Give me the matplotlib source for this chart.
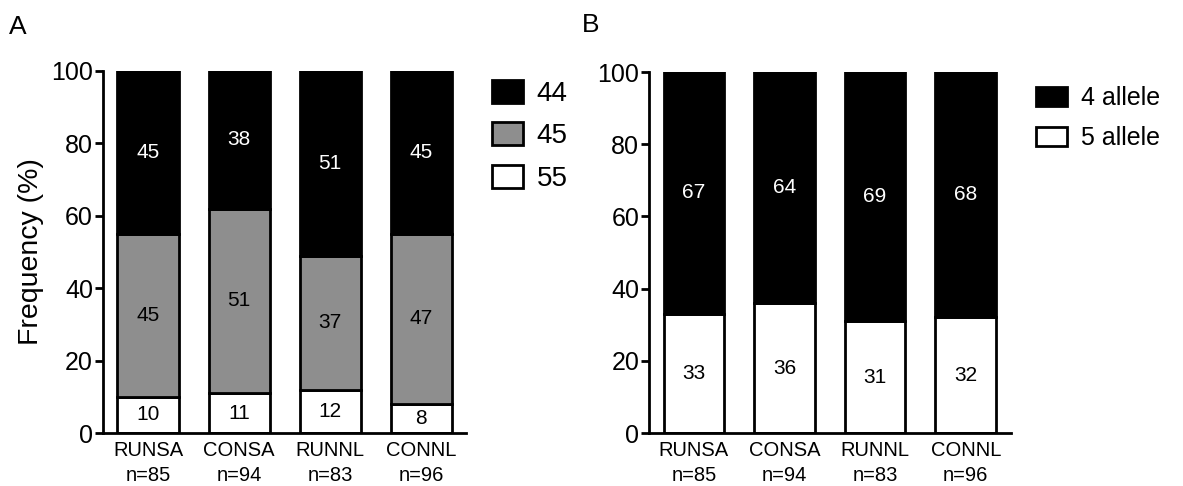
import numpy as np
import matplotlib.pyplot as plt
from matplotlib.patches import Patch

plt.rcParams['font.family'] = ['Liberation Sans', 'DejaVu Sans']

groups = ['RUNSA', 'CONSA', 'RUNNL', 'CONNL']
n_sizes = [85, 94, 83, 96]

# panel A: genotype percentages (stacked bottom to top: 55, 45, 44)
geno_55 = [10, 11, 12, 8]
geno_45 = [45, 51, 37, 47]
geno_44 = [45, 38, 51, 45]

# panel B: allele percentages
allele_5 = [33, 36, 31, 32]
allele_4 = [67, 64, 69, 68]

xlabels = [f'{g}\nn={n}' for g, n in zip(groups, n_sizes)]
x = np.arange(len(groups))
grey = '#8e8e8e'
lw = 2.0
W, H = 1183, 486

fig = plt.figure(figsize=(W / 100, H / 100), dpi=100)
axA = fig.add_axes([102.7 / W, 1 - 433 / H, 363.3 / W, 362 / H])
axB = fig.add_axes([649 / W, 1 - 433 / H, 362 / W, 361 / H])


def style(ax):
    ax.set_ylim(0, 100)
    ax.set_xlim(-0.497, 3.49)
    ax.set_yticks(range(0, 101, 20))
    ax.set_xticks(x)
    ax.set_xticklabels(xlabels, fontsize=14.5, linespacing=1.4)
    ax.tick_params(axis='y', labelsize=18, length=6, width=lw, pad=1)
    ax.tick_params(axis='x', length=0, pad=6)
    for s in ['top', 'right']:
        ax.spines[s].set_visible(False)
    for s in ['left', 'bottom']:
        ax.spines[s].set_linewidth(lw)


def stack(ax, layers, colors, txtcolors, width):
    bottom = np.zeros(len(x))
    for vals, c, tc in zip(layers, colors, txtcolors):
        vals = np.array(vals, dtype=float)
        ax.bar(x, vals, width, bottom=bottom, color=c, edgecolor='black',
               linewidth=lw, zorder=2)
        for xi, b, v in zip(x, bottom, vals):
            ax.text(xi, b + v / 2, f'{int(v)}', ha='center', va='center',
                    fontsize=15, color=tc, zorder=3)
        bottom += vals


# panel A
stack(axA, [geno_55, geno_45, geno_44], ['white', grey, 'black'],
      ['black', 'black', 'white'], 0.67)
style(axA)
axA.set_ylabel('Frequency (%)', fontsize=20.5, labelpad=5)
handlesA = [Patch(facecolor='black', edgecolor='black', linewidth=lw, label='44'),
            Patch(facecolor=grey, edgecolor='black', linewidth=lw, label='45'),
            Patch(facecolor='white', edgecolor='black', linewidth=lw, label='55')]
fig.legend(handles=handlesA, loc='upper left', bbox_to_anchor=(492 / W, 1 - 80 / H),
           frameon=False, fontsize=20, handlelength=1.1, handleheight=0.9,
           handletextpad=0.5, labelspacing=0.55, borderpad=0, borderaxespad=0)

# panel B
stack(axB, [allele_5, allele_4], ['white', 'black'], ['black', 'white'], 0.67)
style(axB)
axB.set_xlim(-0.496, 3.5)
handlesB = [Patch(facecolor='black', edgecolor='black', linewidth=lw, label='4 allele'),
            Patch(facecolor='white', edgecolor='black', linewidth=lw, label='5 allele')]
fig.legend(handles=handlesB, loc='upper left', bbox_to_anchor=(1036 / W, 1 - 86 / H),
           frameon=False, fontsize=18, handlelength=1.25, handleheight=0.8,
           handletextpad=0.55, labelspacing=0.65, borderpad=0, borderaxespad=0)

fig.text(9 / W, 1 - 34 / H, 'A', fontsize=19)
fig.text(582 / W, 1 - 32 / H, 'B', fontsize=19)

fig.savefig('out.png', dpi=100)
